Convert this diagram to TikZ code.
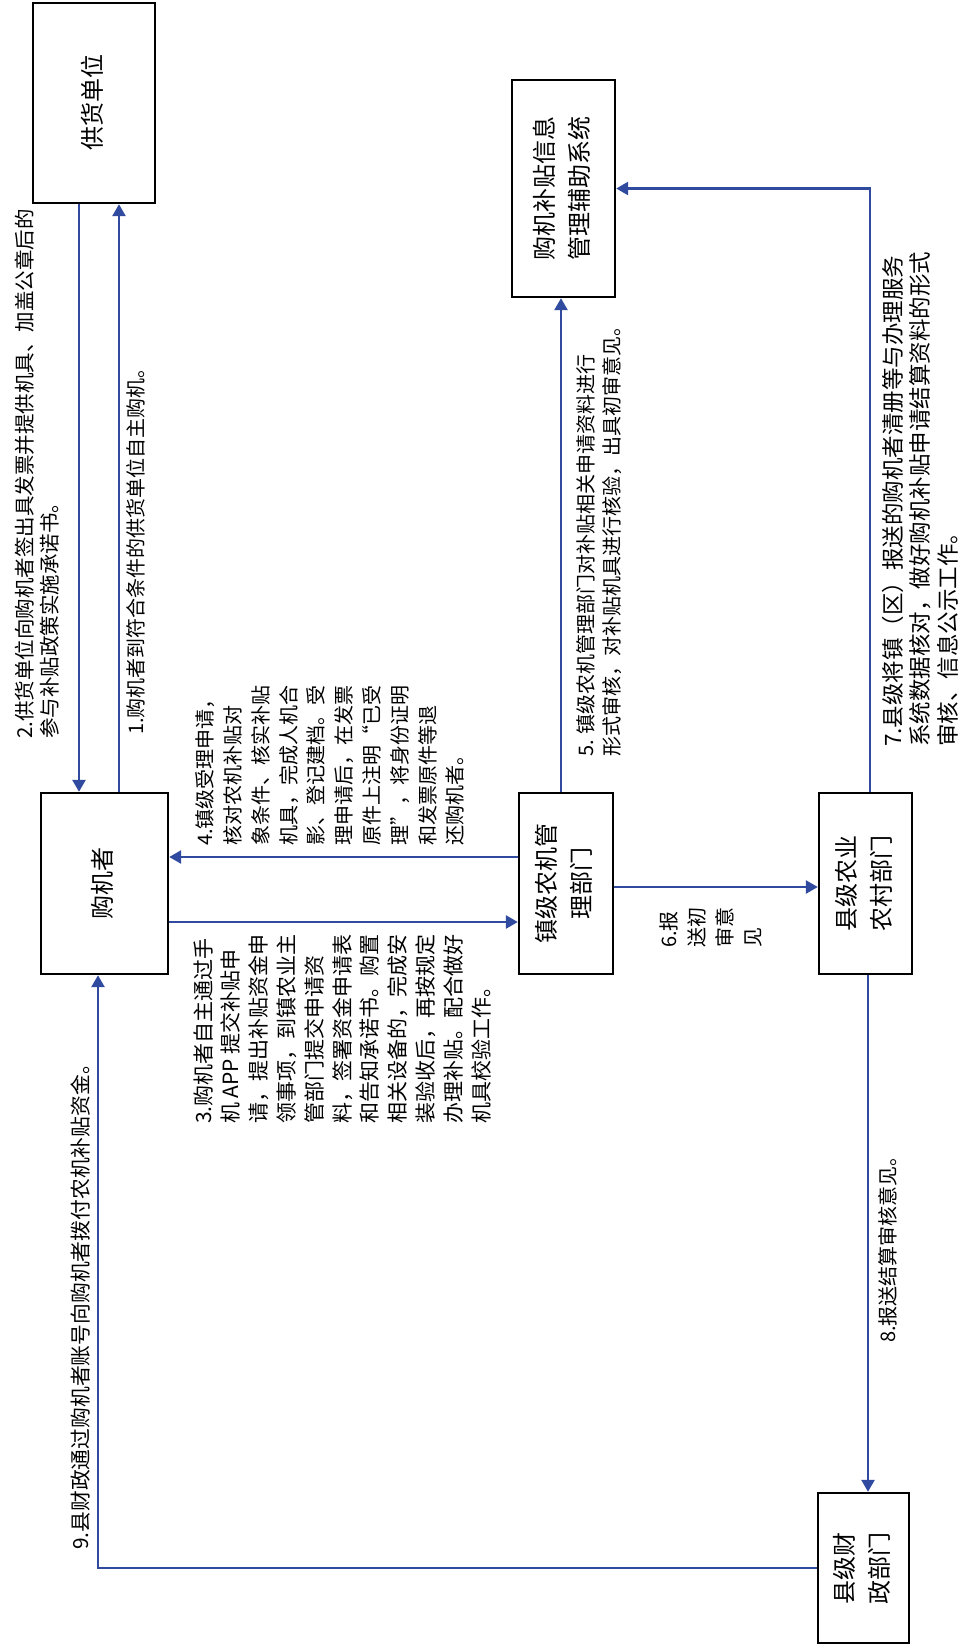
\documentclass[tikz,border=0pt]{standalone}
\usepackage{fontspec}
\setmainfont{Noto Sans CJK SC}
\usepackage{graphicx}
\usetikzlibrary{arrows.meta}
\definecolor{flowblue}{HTML}{2F4A9E}
\newcommand{\rotlines}[2]{\rotatebox{90}{\begin{tabular}{@{}#1@{}}#2\end{tabular}}}

\begin{document}
\begin{tikzpicture}[x=1pt, y=-1pt,
    box/.style={draw=black, line width=2.4pt, inner sep=0pt, font=\fontsize{24pt}{35pt}\selectfont},
    lbl/.style={inner sep=0pt, anchor=south west, font=\fontsize{20pt}{27.8pt}\selectfont},
    arr/.style={-{Triangle[length=12pt, width=13pt]}, line width=2.6pt, flowblue}
]
\useasboundingbox (0,0) rectangle (959,1648);

% boxes
\node[box, minimum width=122pt, minimum height=200pt] (gh) at (94,103) {\rotlines{c}{供货单位}};
\node[box, minimum width=103pt, minimum height=217pt] (sys) at (563.5,188.5) {\rotlines{c}{购机补贴信息\\管理辅助系统}};
\node[box, minimum width=127pt, minimum height=181pt] (gjz) at (104.5,883.5) {\rotlines{c}{购机者}};
\node[box, minimum width=94pt, minimum height=181pt] (zj) at (566,883.5) {\rotlines{c}{镇级农机管\\理部门}};
\node[box, minimum width=93pt, minimum height=181pt] (xny) at (865.5,883.5) {\rotlines{c}{县级农业\\农村部门}};
\node[box, minimum width=91pt, minimum height=150pt] (xcz) at (863.5,1568) {\rotlines{c}{县级财\\政部门}};

% lanes of the connectors
\coordinate (c1) at (119,0);
\coordinate (c2) at (79,0);
\coordinate (c3) at (0,922);
\coordinate (c4) at (0,857);
\coordinate (c5) at (561,0);
\coordinate (c6) at (0,887);
\coordinate (c7) at (870,0);
\coordinate (c8) at (868,0);
\coordinate (c9) at (98,0);

\draw[arr] (c1 |- gjz.north) -- (c1 |- gh.south);
\draw[arr] (c2 |- gh.south) -- (c2 |- gjz.north);
\draw[arr] (gjz.east |- c3) -- (zj.west |- c3);
\draw[arr] (zj.west |- c4) -- (gjz.east |- c4);
\draw[arr] (c5 |- zj.north) -- (c5 |- sys.south);
\draw[arr] (zj.east |- c6) -- (xny.west |- c6);
\draw[arr] (c7 |- xny.north) |- (sys.east);
\draw[arr] (c8 |- xny.south) -- (c8 |- xcz.north);
\draw[arr] (xcz.west) -| (c9 |- gjz.south);

% step texts
\node[lbl] (t1) at (124,735) {\rotlines{l}{1.购机者到符合条件的供货单位自主购机。}};
\node[lbl, font=\fontsize{20.5pt}{25pt}\selectfont] (t2) at (15,739) {\rotlines{l}{2.供货单位向购机者签出具发票并提供机具、加盖公章后的\\参与补贴政策实施承诺书。}};
\node[lbl, font=\fontsize{21pt}{27.8pt}\selectfont] (t3) at (191.5,1124) {\rotlines{l}{3.购机者自主通过手\\机 APP 提交补贴申\\请，提出补贴资金申\\领事项，到镇农业主\\管部门提交申请资\\料，签署资金申请表\\和告知承诺书。购置\\相关设备的，完成安\\装验收后，再按规定\\办理补贴。配合做好\\机具校验工作。}};
\node[lbl] (t4) at (193,846) {\rotlines{l}{4.镇级受理申请，\\核对农机补贴对\\象条件、核实补贴\\机具，完成人机合\\影、登记建档。受\\理申请后，在发票\\原件上注明“已受\\理”，将身份证明\\和发票原件等退\\还购机者。}};
\node[lbl, font=\fontsize{20pt}{26pt}\selectfont] (t5) at (575,757) {\rotlines{l}{5. 镇级农机管理部门对补贴相关申请资料进行\\形式审核，对补贴机具进行核验，出具初审意见。}};
\node[lbl, font=\fontsize{20pt}{28.3pt}\selectfont] (t6) at (656,948) {\rotlines{l}{6.报\\送初\\审意\\见}};
\node[lbl, font=\fontsize{22.5pt}{27.5pt}\selectfont] (t7) at (882,747) {\rotlines{l}{7.县级将镇（区）报送的购机者清册等与办理服务\\系统数据核对，做好购机补贴申请结算资料的形式\\审核、信息公示工作。}};
\node[lbl] (t8) at (876,1343) {\rotlines{l}{8.报送结算审核意见。}};
\node[lbl, font=\fontsize{20.8pt}{27.8pt}\selectfont] (t9) at (69,1550) {\rotlines{l}{9.县财政通过购机者账号向购机者拨付农机补贴资金。}};
\end{tikzpicture}
\end{document}
